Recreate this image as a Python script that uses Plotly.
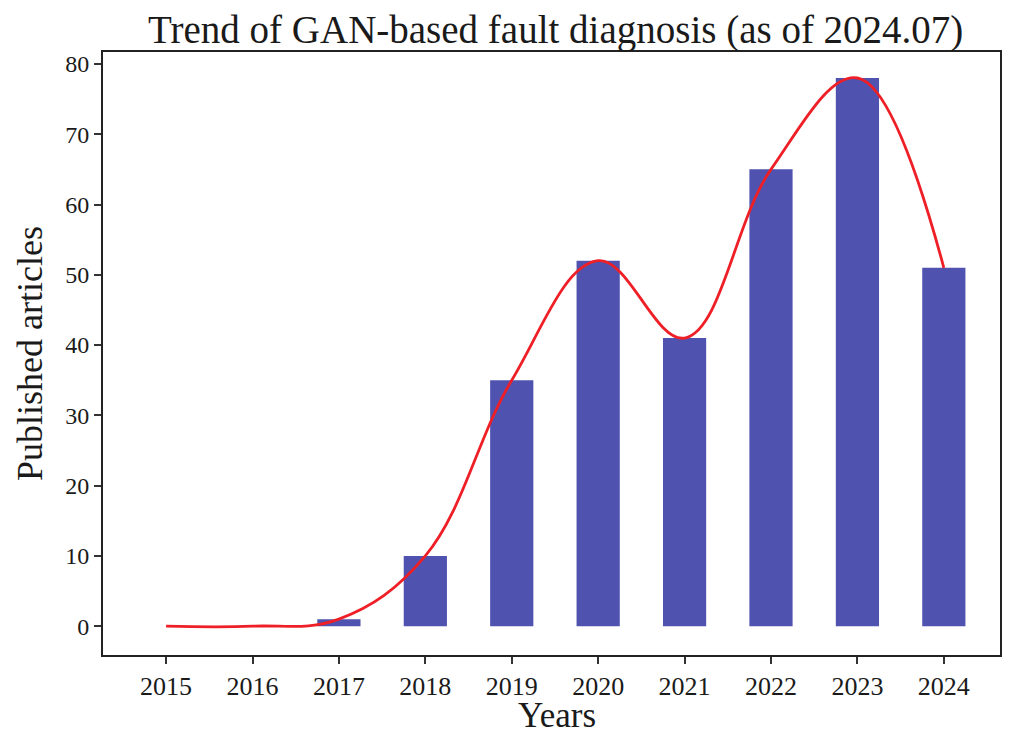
import plotly.graph_objects as go

years = [2015, 2016, 2017, 2018, 2019, 2020, 2021, 2022, 2023, 2024]
articles = [0, 0, 1, 10, 35, 52, 41, 65, 78, 51]

font = 'Liberation Serif'

bars = go.Bar(
    x=years,
    y=articles,
    width=0.5,
    marker=dict(color='#4F53AF', line=dict(width=0)),
    )

trend = go.Scatter(
    x=years,
    y=articles,
    mode='lines',
    line=dict(color='#EE1F26', width=2.8, shape='spline', smoothing=1.1),
    )

layout = go.Layout(
    width=1020,
    height=738,
    showlegend=False,
    paper_bgcolor='white',
    plot_bgcolor='white',
    margin=dict(l=95, r=28, t=44, b=91),
    font=dict(family=font, color='#1a1a1a'),
    title=dict(
        text='Trend of GAN-based fault diagnosis (as of 2024.07)',
        font=dict(family=font, size=39),
        x=0.537,
        xanchor='center',
        y=0.9715,
        yanchor='middle',
        ),
    xaxis=dict(
        range=[2014.27, 2024.65],
        tickmode='array',
        tickvals=years,
        ticktext=[str(y) for y in years],
        ticks='outside',
        ticklen=7,
        tickwidth=1.5,
        tickcolor='#333',
        tickfont=dict(size=26),
        showgrid=False,
        zeroline=False,
        showline=True,
        linecolor='#222',
        linewidth=2,
        mirror=True,
        ),
    yaxis=dict(
        range=[-4.1, 81.7],
        tickmode='array',
        tickvals=list(range(0, 81, 10)),
        ticks='outside',
        ticklen=7,
        tickwidth=1.5,
        tickcolor='#333',
        tickfont=dict(size=24),
        showgrid=False,
        zeroline=False,
        showline=True,
        linecolor='#222',
        linewidth=2,
        mirror=True,
        title=dict(text='Published articles', font=dict(size=36), standoff=12),
        ),
    annotations=[
        dict(
            text='Years',
            xref='paper', yref='paper',
            x=0.506, y=-0.1,
            xanchor='center', yanchor='middle',
            showarrow=False,
            font=dict(size=35),
            ),
        ],
    )

fig = go.Figure(data=[bars, trend], layout=layout)
fig.write_html('out.html')
